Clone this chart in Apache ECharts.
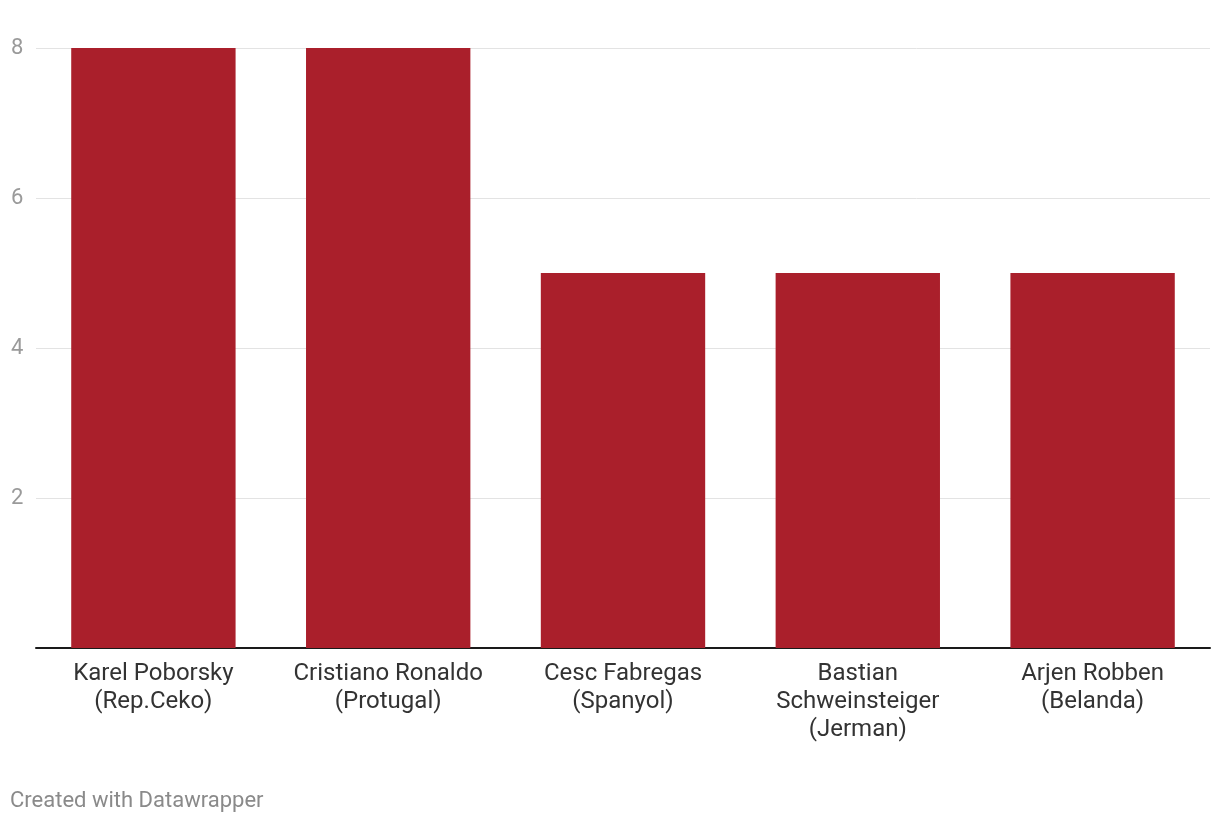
<!DOCTYPE html>
<html>
<head>
<meta charset="utf-8">
<script src="https://cdn.jsdelivr.net/npm/echarts@6/dist/echarts.min.js"></script>
<style>
html,body{margin:0;padding:0;background:#fff;}
#c{width:1220px;height:824px;}
</style>
</head>
<body>
<div id="c"></div>
<script>
const categories = [
  "Karel Poborsky\n(Rep.Ceko)",
  "Cristiano Ronaldo\n(Protugal)",
  "Cesc Fabregas\n(Spanyol)",
  "Bastian\nSchweinsteiger\n(Jerman)",
  "Arjen Robben\n(Belanda)"
];
const values = [8, 8, 5, 5, 5];
const yTicks = [0, 2, 4, 6, 8];
const footerText = "Created with Datawrapper";

const chart = echarts.init(document.getElementById('c'), null, {renderer: 'canvas'});
chart.setOption({
  animation: false,
  backgroundColor: '#ffffff',
  textStyle: {fontFamily: 'Roboto'},
  grid: {left: 36, right: 10, top: 48, bottom: 176, containLabel: false},
  xAxis: {
    type: 'category',
    data: categories,
    axisLine: {show: true, lineStyle: {color: '#1a1a1a', width: 2}},
    axisTick: {show: false},
    axisLabel: {
      interval: 0,
      margin: 12,
      color: '#333333',
      fontSize: 24,
      lineHeight: 28,
      fontFamily: 'Roboto'
    }
  },
  yAxis: {
    type: 'value',
    min: yTicks[0],
    max: yTicks[yTicks.length - 1],
    interval: 2,
    axisLine: {show: false},
    axisTick: {show: false},
    splitLine: {show: true, lineStyle: {color: '#e3e3e3', width: 1}},
    axisLabel: {
      margin: 25,
      align: 'left',
      color: '#9a9a9a',
      fontSize: 22,
      fontFamily: 'Roboto',
      formatter: function (v) { return v === 0 ? '' : String(v); }
    }
  },
  series: [{
    type: 'bar',
    data: values,
    barWidth: '70%',
    itemStyle: {color: '#aa1f2b'},
    silent: true
  }],
  graphic: [{
    type: 'text',
    left: 10,
    top: 790,
    style: {
      text: footerText,
      fill: '#8a8a8a',
      font: '22px Roboto'
    }
  }]
});
</script>
</body>
</html>
